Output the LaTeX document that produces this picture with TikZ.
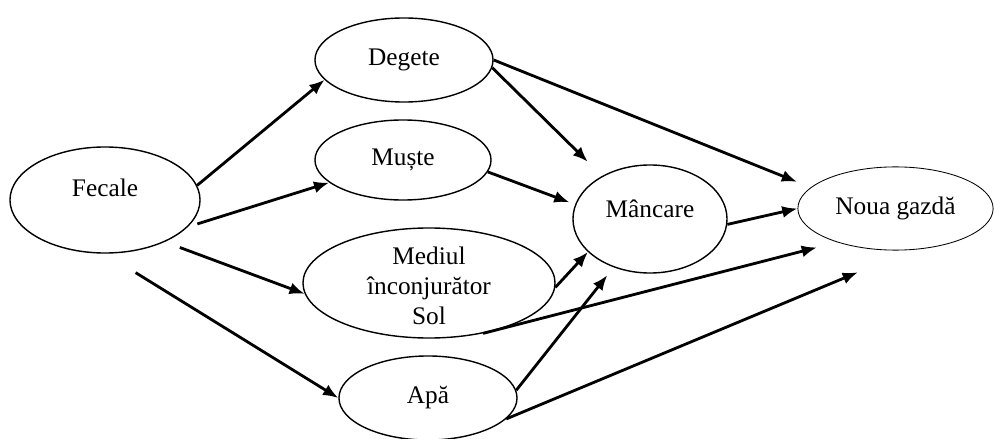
\documentclass[tikz,border=0pt]{standalone}
\usepackage{fontspec}
\setmainfont{Liberation Serif}
\usetikzlibrary{shapes.geometric,arrows.meta}

\begin{document}
\begin{tikzpicture}[x=0.025cm,y=-0.025cm,font=\fontsize{18}{21}\selectfont,
  bubble/.style={ellipse,draw,line width=1pt,inner sep=0pt},
  link/.style={line width=2pt,-{Latex[length=0.38cm,width=0.3cm]}}]
  \useasboundingbox (0,0) rectangle (994,439);
  \coordinate (pFec) at (105,200);
  \coordinate (pDeg) at (404,60);
  \coordinate (pMus) at (403,160);
  \coordinate (pMed) at (429,283);
  \coordinate (pApa) at (428,398);
  \coordinate (pMan) at (650,219);
  \coordinate (pNou) at (895.5,208.5);
  \node[bubble,minimum width=4.75cm,minimum height=2.65cm,label={[yshift=9pt]center:Fecale}] (fec) at (pFec){};
  \node[bubble,minimum width=4.45cm,minimum height=2.1cm] (deg) at (pDeg){Degete};
  \node[bubble,minimum width=4.4cm,minimum height=2cm] (mus) at (pMus){Muște};
  \node[bubble,minimum width=6.3cm,minimum height=2.75cm,label={[align=center,yshift=-2pt]center:Mediul\\înconjurător\\Sol}] (med) at (pMed){};
  \node[bubble,minimum width=4.45cm,minimum height=2.1cm] (apa) at (pApa){Apă};
  \node[bubble,minimum width=3.85cm,minimum height=2.7cm,label={[yshift=7pt]center:Mâncare}] (man) at (pMan){};
  \node[bubble,line width=0.6pt,minimum width=4.88cm,minimum height=2.08cm] (nou) at (pNou){Noua gazdă};
  \draw[link] (fec.9) -- (deg.194);
  \draw[link,shorten <=0.25cm] (fec.-18) -- (mus.197);
  \draw[link,shorten <=0.4cm] (fec.-35) -- (med.185);
  \draw[link,shorten <=0.9cm] (fec.-90) -- (apa.180);
  \draw[link,shorten >=0.5cm] (deg.-5) -- (man.138);
  \draw[link,shorten >=0.37cm] (deg.0) -- (nou.166);
  \draw[link,shorten >=0.15cm] (mus.-8) -- (man.169);
  \draw[link] (man.-4) -- (nou.180);
  \draw[link] (med.-2) -- (man.208);
  \draw[link,shorten >=0.25cm] (apa.5) -- (man.233);
  \draw[link,shorten >=0.52cm] (med.-43) -- (nou.210);
  \draw[link,shorten >=1.45cm] (apa.-15) -- (nou.291);
\end{tikzpicture}
\end{document}
